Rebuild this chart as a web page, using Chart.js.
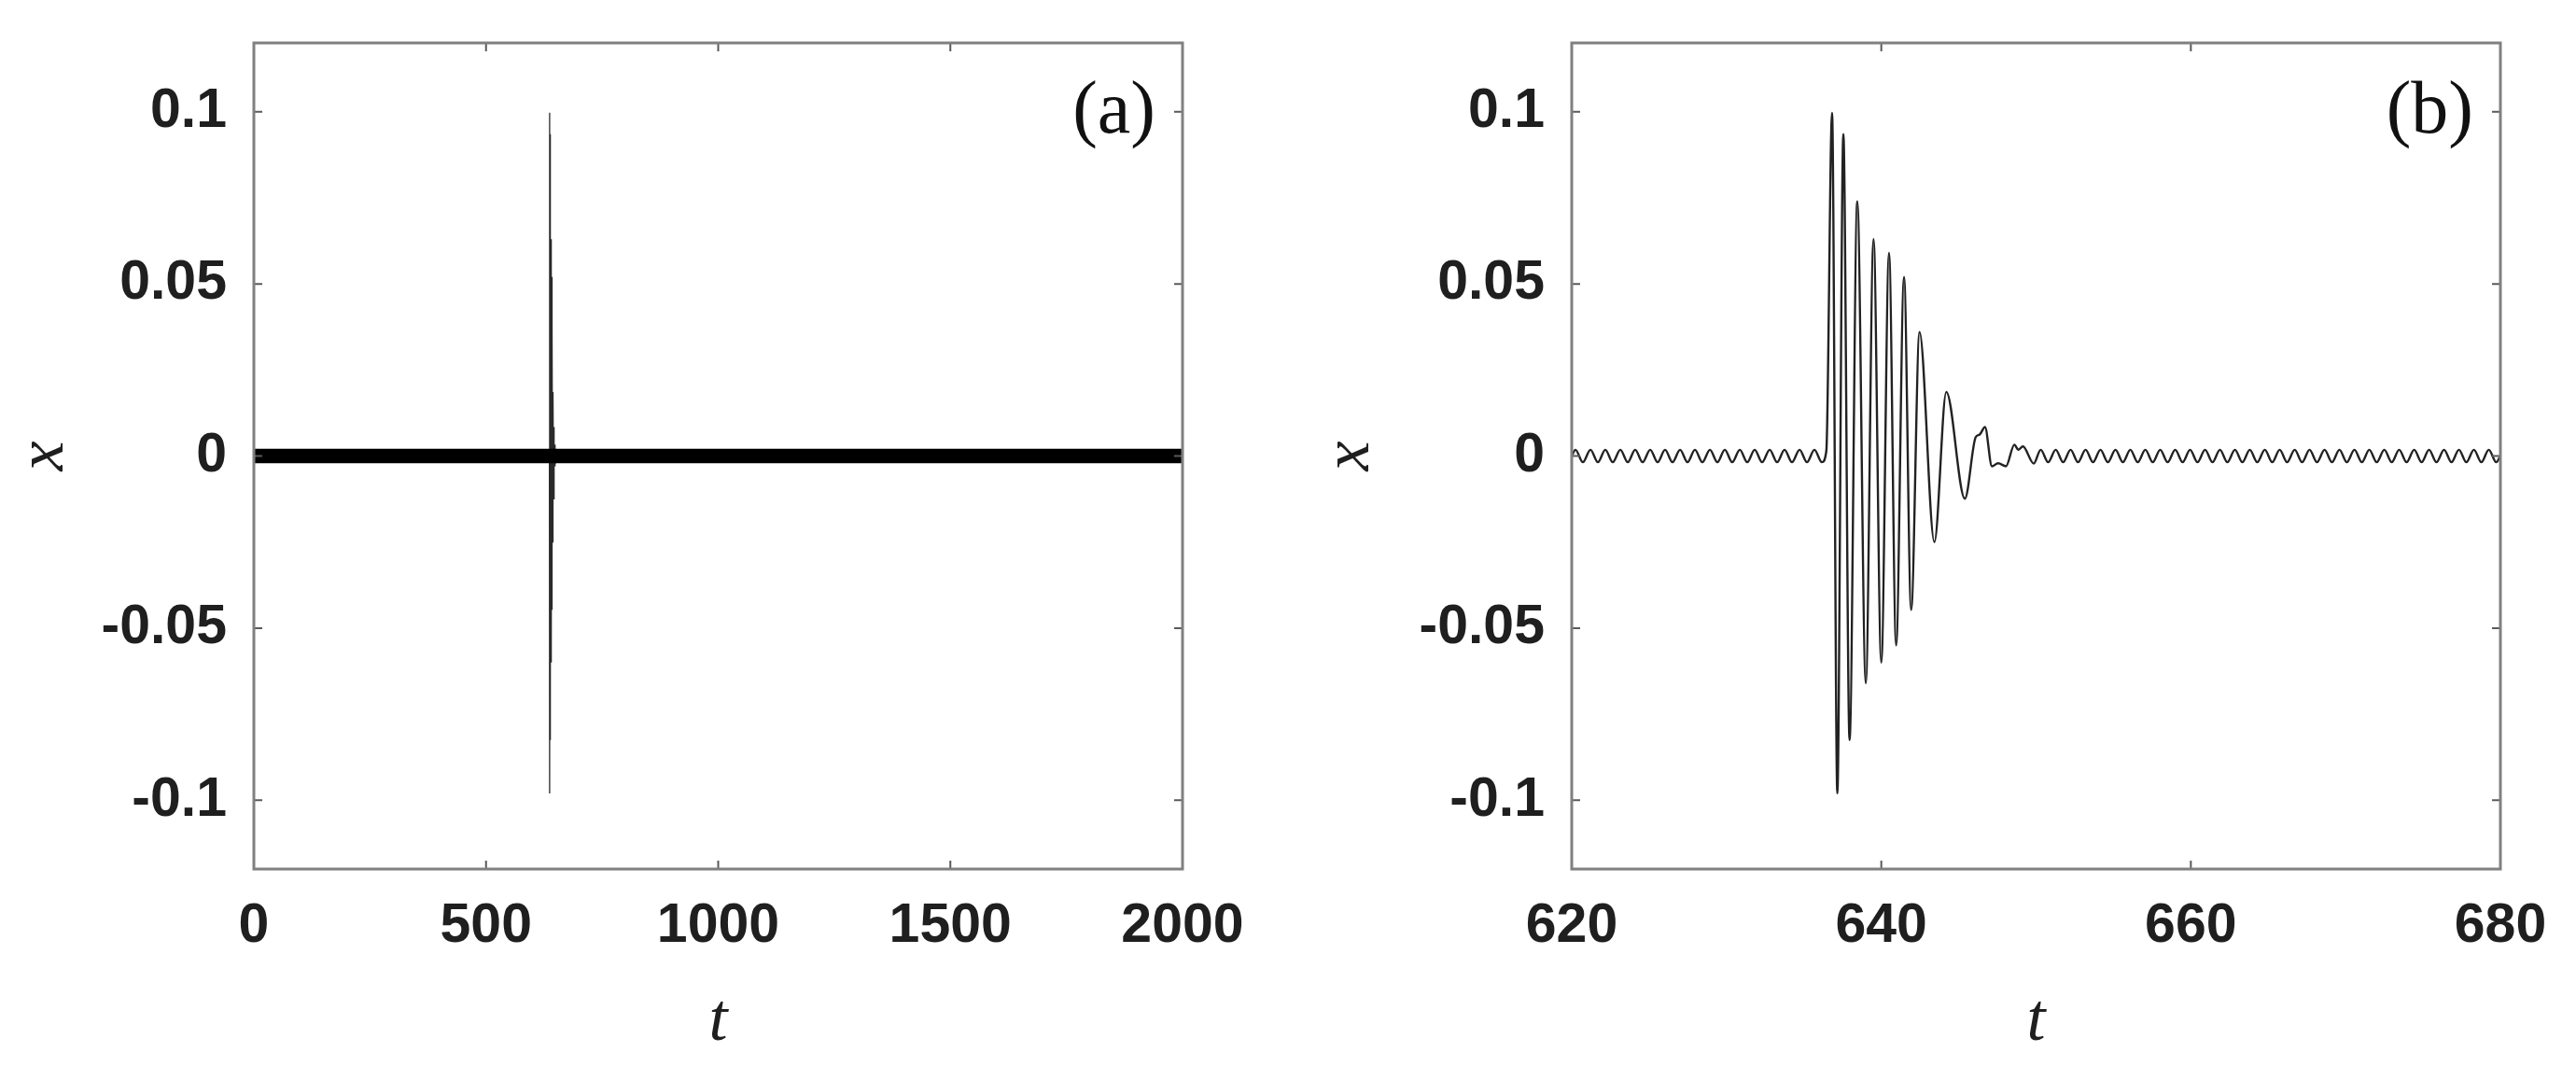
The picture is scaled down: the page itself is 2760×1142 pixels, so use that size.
<!DOCTYPE html>
<html><head><meta charset="utf-8">
<script src="https://cdn.jsdelivr.net/npm/chart.js@4.4.1/dist/chart.umd.min.js"></script>
<style>
html,body{margin:0;padding:0;background:#fff;}
#wrap{position:relative;width:2760px;height:1142px;overflow:hidden;background:#fff}
.pane{position:absolute;top:0;width:1380px;height:1142px}
.tag{position:absolute;font-family:"Liberation Serif","Times New Roman",serif;font-size:80px;line-height:80px;color:#111;white-space:nowrap}
</style></head><body>
<div id="wrap">
 <div class="pane" style="left:0"><canvas id="ca" width="1380" height="1142"></canvas></div>
 <div class="pane" style="left:1380px"><canvas id="cb" width="1380" height="1142"></canvas></div>
 <div class="tag" style="right:1522px;top:75px">(a)</div>
 <div class="tag" style="right:110px;top:75px">(b)</div>
</div>
<script>
// ---------- data ----------
const xTicksA = [0, 500, 1000, 1500, 2000];
const xTicksB = [620, 640, 660, 680];
const yTicks = [-0.1, -0.05, 0, 0.05, 0.1];
const yTickLabels = ['-0.1', '-0.05', '0', '0.05', '0.1'];

// panel (a): dense small oscillation seen as a band around zero
const bandT = [0, 2000];
const bandUpper = [0.0018, 0.0018];
const bandLower = [-0.0018, -0.0018];

// small background oscillation before the burst (extrema)
const preT = [620.00, 620.24, 620.72, 621.21, 621.69, 622.17, 622.65, 623.14, 623.62, 624.10, 624.58,
  625.07, 625.55, 626.03, 626.51, 627.00, 627.48, 627.96, 628.44, 628.93, 629.41,
  629.89, 630.37, 630.86, 631.34, 631.82, 632.30, 632.79, 633.27, 633.75, 634.23,
  634.72, 635.20, 635.68, 636.16];
const preX = [0.0000, 0.0018, -0.0018, 0.0018, -0.0018, 0.0018, -0.0018, 0.0018, -0.0018, 0.0018, -0.0018,
  0.0018, -0.0018, 0.0018, -0.0018, 0.0018, -0.0018, 0.0018, -0.0018, 0.0018, -0.0018,
  0.0018, -0.0018, 0.0018, -0.0018, 0.0018, -0.0018, 0.0018, -0.0018, 0.0018, -0.0018,
  0.0018, -0.0018, 0.0018, -0.0018];

// the burst
const burstT = [636.45, 636.82, 637.16, 637.55, 637.95, 638.45, 639.00, 639.50, 640.00, 640.50,
  640.96, 641.47, 641.93, 642.47, 643.43, 644.20, 645.40, 646.10, 646.35, 646.70,
  647.15, 647.55, 648.05, 648.60, 648.85, 649.15, 649.85];
const burstX = [0.0015, 0.0997, -0.0980, 0.0935, -0.0825, 0.0740, -0.0660, 0.0630, -0.0600, 0.0590,
  -0.0550, 0.0520, -0.0447, 0.0360, -0.0250, 0.0186, -0.0124, 0.0055, 0.0062, 0.0084,
  -0.0030, -0.0021, -0.0030, 0.0033, 0.0018, 0.0028, -0.0022];

// small background oscillation after the burst (extrema)
const postT = [650.30, 650.78, 651.27, 651.75, 652.23, 652.71, 653.20, 653.68, 654.16, 654.64,
  655.13, 655.61, 656.09, 656.57, 657.06, 657.54, 658.02, 658.50, 658.99, 659.47,
  659.95, 660.43, 660.92, 661.40, 661.88, 662.36, 662.85, 663.33, 663.81, 664.29,
  664.78, 665.26, 665.74, 666.22, 666.71, 667.19, 667.67, 668.15, 668.64, 669.12,
  669.60, 670.08, 670.57, 671.05, 671.53, 672.01, 672.50, 672.98, 673.46, 673.94,
  674.43, 674.91, 675.39, 675.87, 676.36, 676.84, 677.32, 677.80, 678.29, 678.77,
  679.25, 679.73, 680.00];
const postX = [0.0018, -0.0018, 0.0018, -0.0018, 0.0018, -0.0018, 0.0018, -0.0018, 0.0018, -0.0018,
  0.0018, -0.0018, 0.0018, -0.0018, 0.0018, -0.0018, 0.0018, -0.0018, 0.0018, -0.0018,
  0.0018, -0.0018, 0.0018, -0.0018, 0.0018, -0.0018, 0.0018, -0.0018, 0.0018, -0.0018,
  0.0018, -0.0018, 0.0018, -0.0018, 0.0018, -0.0018, 0.0018, -0.0018, 0.0018, -0.0018,
  0.0018, -0.0018, 0.0018, -0.0018, 0.0018, -0.0018, 0.0018, -0.0018, 0.0018, -0.0018,
  0.0018, -0.0018, 0.0018, -0.0018, 0.0018, -0.0018, 0.0018, -0.0018, 0.0018, -0.0018,
  0.0018, -0.0018, 0.0000];

// ---------- build ----------
const pts = (ts, xs) => ts.map((t, i) => ({x: t, y: xs[i]}));
const seriesB = pts(preT, preX).concat(pts(burstT, burstX), pts(postT, postX));

const TICK_FONT = {family: '"Liberation Sans", Arial, sans-serif', size: 59, weight: 'bold', lineHeight: 1.2};
const TITLE_FONT = {family: '"Liberation Serif", "Times New Roman", serif', size: 72, style: 'italic', lineHeight: 1};

const boxPlugin = {
  id: 'box',
  afterDatasetsDraw(chart) {
    const {ctx, chartArea: {left, right, top, bottom}, scales: {x, y}} = chart;
    ctx.save();
    ctx.strokeStyle = '#5a5a5a'; ctx.lineWidth = 2;
    ctx.beginPath();
    x.ticks.forEach(t => { const p = x.getPixelForValue(t.value);
      ctx.moveTo(p, bottom); ctx.lineTo(p, bottom - 9); ctx.moveTo(p, top); ctx.lineTo(p, top + 9); });
    y.ticks.forEach(t => { const p = y.getPixelForValue(t.value);
      ctx.moveTo(left, p); ctx.lineTo(left + 9, p); ctx.moveTo(right, p); ctx.lineTo(right - 9, p); });
    ctx.stroke();
    ctx.strokeStyle = '#808080'; ctx.lineWidth = 3;
    ctx.strokeRect(left, top, right - left, bottom - top);
    ctx.restore();
  }
};

function makeScales(xTicks, xmin, xmax, yWidth, yTitlePad) {
  return {
    x: {
      type: 'linear', min: xmin, max: xmax,
      afterBuildTicks: s => { s.ticks = xTicks.map(v => ({value: v})); },
      afterFit: s => { s.height = 211; s.paddingLeft = 0; s.paddingRight = 0; },
      grid: {display: false, drawTicks: false}, border: {display: false},
      ticks: {font: TICK_FONT, color: '#1f1f1f', padding: 26, maxRotation: 0, autoSkip: false,
        callback: v => String(v)},
      title: {display: true, text: 't', font: TITLE_FONT, color: '#1f1f1f', padding: {top: 0, bottom: 11}}
    },
    y: {
      type: 'linear', min: -0.12, max: 0.12,
      afterBuildTicks: s => { s.ticks = yTicks.map(v => ({value: v})); },
      afterFit: s => { s.width = yWidth; s.paddingTop = 0; s.paddingBottom = 0; },
      grid: {display: false, drawTicks: false}, border: {display: false},
      ticks: {font: TICK_FONT, color: '#1f1f1f', padding: 29, autoSkip: false,
        callback: v => { const i = yTicks.findIndex(t => Math.abs(t - v) < 1e-9); return i >= 0 ? yTickLabels[i] : ''; }},
      title: {display: true, text: 'x', font: TITLE_FONT, color: '#1f1f1f', padding: {top: yTitlePad, bottom: 0}}
    }
  };
}

const common = {
  responsive: false, animation: false, devicePixelRatio: 1,
  plugins: {legend: {display: false}, tooltip: {enabled: false}},
  elements: {point: {radius: 0}}
};

new Chart(document.getElementById('ca'), {
  type: 'line',
  data: {datasets: [
    {data: pts(bandT, bandUpper), borderColor: '#000', borderWidth: 2, backgroundColor: '#000', fill: '+1', tension: 0},
    {data: pts(bandT, bandLower), borderColor: '#000', borderWidth: 2, fill: false, tension: 0},
    {data: pts(burstT, burstX), borderColor: '#2a2a2a', borderWidth: 1.3, fill: false, tension: 0}
  ]},
  options: Object.assign({}, common, {
    layout: {padding: {left: 0, right: 113, top: 46, bottom: 0}},
    scales: makeScales(xTicksA, 0, 2000, 272, 12)
  }),
  plugins: [boxPlugin]
});

new Chart(document.getElementById('cb'), {
  type: 'line',
  data: {datasets: [
    {data: seriesB, borderColor: '#222', borderWidth: 2.4, fill: false, cubicInterpolationMode: 'monotone'}
  ]},
  options: Object.assign({}, common, {
    layout: {padding: {left: 0, right: 81, top: 46, bottom: 0}},
    scales: makeScales(xTicksB, 620, 680, 304, 31)
  }),
  plugins: [boxPlugin]
});
</script>
</body></html>
